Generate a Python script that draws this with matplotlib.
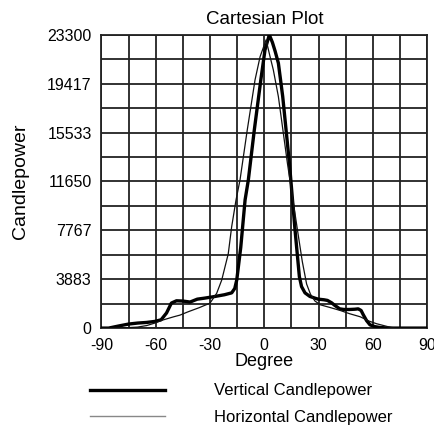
import numpy as np
import matplotlib
matplotlib.use('Agg')
import matplotlib.pyplot as plt
from matplotlib.lines import Line2D

# Candlepower readings (degree, candlepower)
vert_deg = [-90, -86, -80, -75, -70, -65, -60.5, -57, -54, -51.3, -48.5, -45, -41,
            -37, -33, -28.2, -22, -18, -16.3, -15.2, -13, -10.6, -8.8, -5.5, -1.9,
            0.4, 2.8, 4.5, 6, 7.8, 10.2, 13.9, 17, 19.4, 20.6, 22.5, 25.2,
            28, 29.8, 33, 34.9, 37.2, 39, 41.7, 44, 47.3, 50, 51.9, 53.5, 54.7,
            56.5, 58.4, 61, 63.9, 67, 71.3, 80, 90]
vert_cp = [0, 0, 180, 320, 400, 450, 530, 660, 1200, 1990, 2170, 2150, 2070,
           2300, 2380, 2490, 2650, 2800, 3150, 3820, 6400, 10180, 11770, 15740, 19720,
           22100, 23300, 22700, 22000, 21050, 18390, 13090, 7790, 4080, 3300, 2800, 2515,
           2380, 2300, 2250, 2200, 2010, 1800, 1530, 1480, 1480, 1500, 1530,
           1400, 1060, 600, 260, 120, 50, 20, 0, 0, 0]

horiz_deg = [-90, -85, -80, -75, -70, -65, -60, -56.8, -50, -46.6, -42, -36, -30,
             -26.3, -23.5, -19.9, -18, -15.6, -13.4, -9.4, -5.1, -2.3, 1.0,
             3.2, 5.0, 7.8, 12.8, 16.1, 18.6, 21, 23.4, 25.5, 28, 31, 36, 42, 47,
             53, 58, 62, 66, 70, 73, 90]
horiz_cp = [0, 0, 20, 40, 80, 200, 420, 610, 900, 1030, 1300, 1620, 1980,
            2760, 3820, 5900, 8060, 10180, 11770, 15740, 19720, 21570, 22900,
            21570, 20520, 18390, 13090, 9940, 7550, 5300, 3500, 2700, 2150, 1850, 1650,
            1400, 1150, 900, 550, 350, 200, 50, 0, 0]

y_max = 23300
y_labels = [0, 3883, 7767, 11650, 15533, 19417, 23300]
x_labels = [-90, -60, -30, 0, 30, 60, 90]

plt.rcParams['font.family'] = ['Liberation Sans', 'DejaVu Sans']
plt.rcParams['axes.unicode_minus'] = False

fig = plt.figure(figsize=(4.35, 4.25), dpi=100)
ax = fig.add_axes([0.233, 0.228, 0.749, 0.690])

ax.plot(vert_deg, vert_cp, color='black', lw=2.4, solid_joinstyle='round', zorder=3)
ax.plot(horiz_deg, horiz_cp, color='#111111', lw=0.9, zorder=3)

ax.set_xlim(-90, 90)
ax.set_ylim(0, y_max)
ax.set_xticks(x_labels)
ax.set_yticks(np.linspace(0, y_max, 7))
ax.set_yticklabels([str(v) for v in y_labels])
ax.set_xticks(np.arange(-90, 91, 15), minor=True)
ax.set_yticks(np.linspace(0, y_max, 13), minor=True)
ax.grid(which='both', color='#222222', lw=1.3)
ax.tick_params(which='both', length=0, labelsize=11.5, pad=7)
for s in ax.spines.values():
    s.set_color('#222222')
    s.set_linewidth(1.3)

ax.set_title('Cartesian Plot', fontsize=13.5, pad=8)
ax.set_xlabel('Degree', fontsize=13, labelpad=0)
ax.set_ylabel('Candlepower', fontsize=14, labelpad=13)

handles = [Line2D([], [], color='black', lw=2.4),
           Line2D([], [], color='#888888', lw=1.0)]
fig.legend(handles, ['Vertical Candlepower', 'Horizontal Candlepower'],
           loc='upper left', bbox_to_anchor=(0.207, 0.098), frameon=False,
           fontsize=12, handlelength=4.5, handletextpad=2.95, labelspacing=0.7,
           borderpad=0, borderaxespad=0)

plt.savefig('out.png', dpi=100)
